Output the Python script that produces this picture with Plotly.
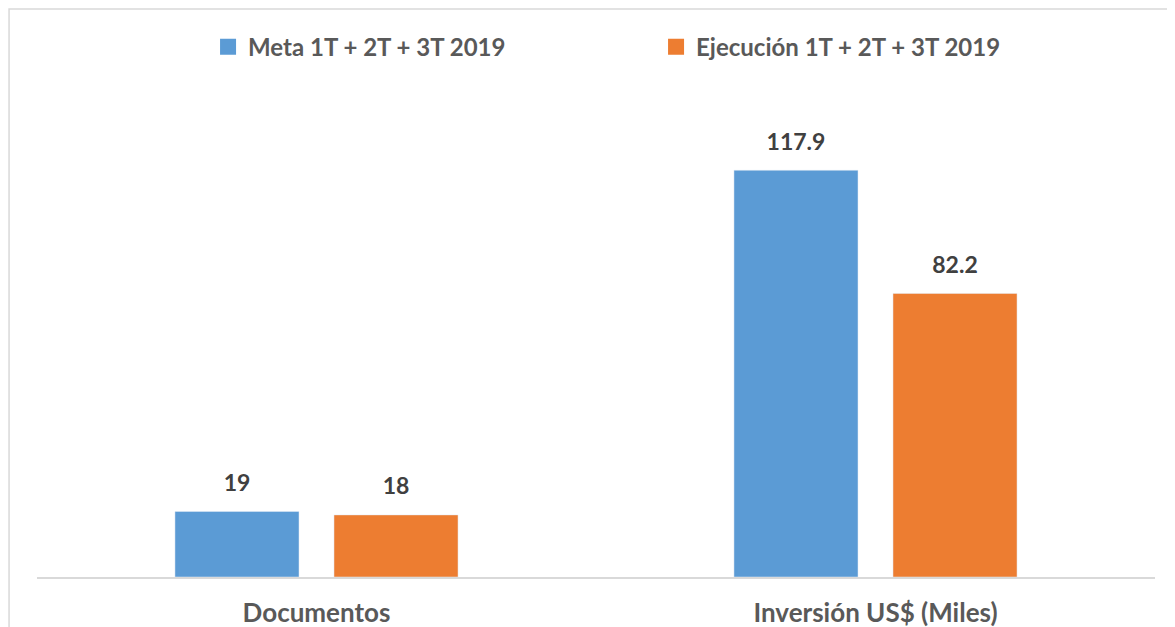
import plotly.graph_objects as go

categories = ["Documentos", "Inversión US$ (Miles)"]
meta_values = [19, 117.9]
ejec_values = [18, 82.2]
meta_labels = ["19", "117.9"]
ejec_labels = ["18", "82.2"]
series_names = ["Meta 1T + 2T + 3T 2019", "Ejecución 1T + 2T + 3T 2019"]

BLUE = "#5b9bd5"
ORANGE = "#ed7d31"
FONT = "Lato"

fig = go.Figure()
for name, vals, labels, color, grp in [
    (series_names[0], meta_values, meta_labels, BLUE, "a"),
    (series_names[1], ejec_values, ejec_labels, ORANGE, "b"),
]:
    fig.add_trace(go.Bar(x=categories, y=vals, name=name, marker_color=color,
                         offsetgroup=grp, hoverinfo="skip", showlegend=False))
    # value labels floated a little above each bar
    fig.add_trace(go.Scatter(x=categories, y=vals, mode="markers+text", text=labels,
                             textposition="top center", offsetgroup=grp,
                             marker=dict(size=22, opacity=0),
                             textfont=dict(family=FONT, size=23, color="#404040", weight="bold"),
                             showlegend=False, hoverinfo="skip"))
    # legend entry with a bigger square swatch
    fig.add_trace(go.Scatter(x=[None], y=[None], mode="markers", name=name,
                             marker=dict(symbol="square", size=16, color=color)))

# page body has an 8px margin, so everything is laid out 8px up/left
fig.update_layout(
    width=1175, height=627,
    margin=dict(l=29, r=28, t=86, b=58),
    paper_bgcolor="white", plot_bgcolor="white",
    barmode="group", bargap=0.431, bargroupgap=0.22,
    scattermode="group", scattergap=0.431,
    font=dict(family=FONT),
    legend=dict(orientation="h", x=0.153, xanchor="left", y=1.097, yanchor="middle",
                font=dict(family=FONT, size=24, color="#595959", weight="bold"),
                entrywidth=403, itemwidth=30),
    xaxis=dict(showline=True, linecolor="#d9d9d9", linewidth=1.5, ticks="",
               ticklabelstandoff=12, automargin=False,
               tickfont=dict(family=FONT, size=26, color="#595959", weight="bold")),
    yaxis=dict(range=[0, 140], visible=False, showgrid=False),
    shapes=[dict(type="rect", xref="paper", yref="paper", x0=-0.025, x1=1.2,
                 y0=-1, y1=1.176, line=dict(color="#d9d9d9", width=1.5))],
)

fig.write_html("out.html")
